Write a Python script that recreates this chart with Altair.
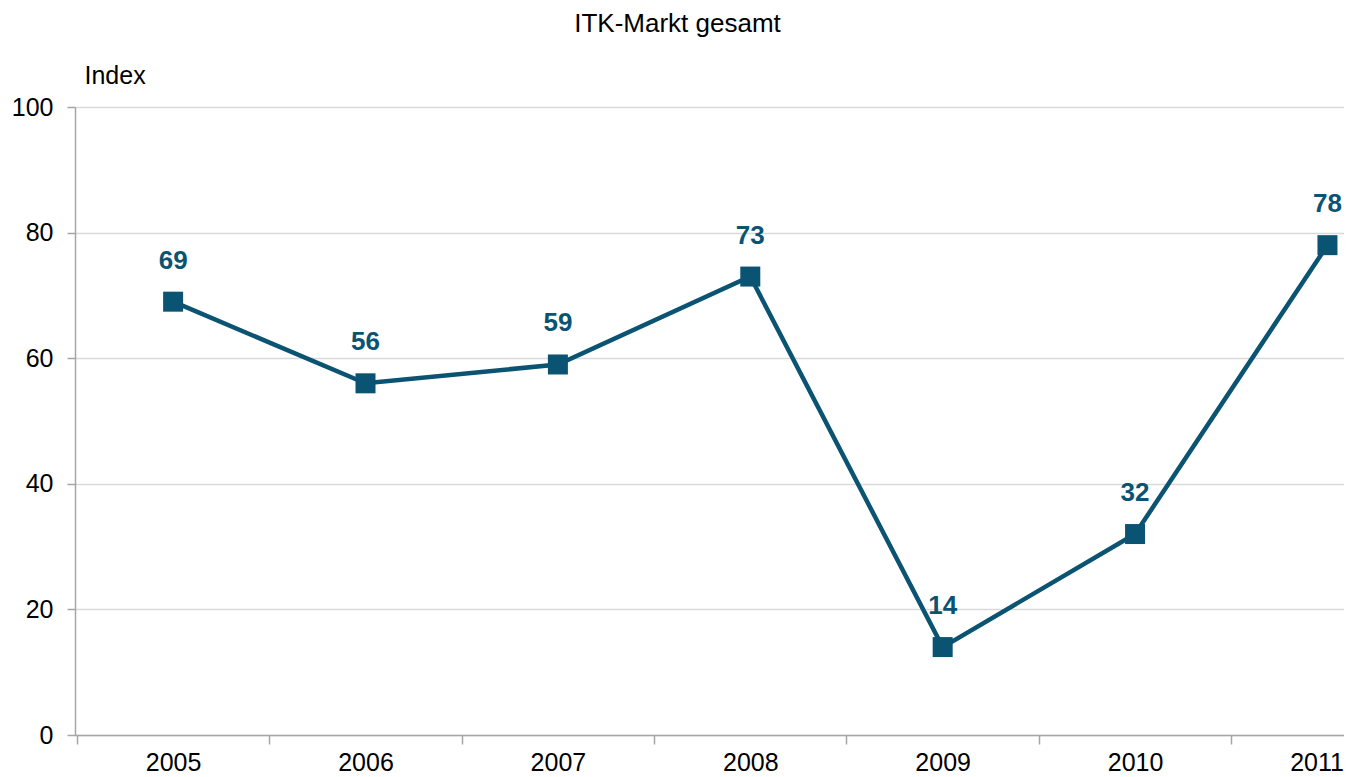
import altair as alt
import pandas as pd

# Data
years = [2005, 2006, 2007, 2008, 2009, 2010, 2011]
values = [69, 56, 59, 73, 14, 32, 78]
value_labels = ["69", "56", "59", "73", "14", "32", "78"]
y_tick_values = [0, 20, 40, 60, 80, 100]
x_tick_values = [2004.5, 2005, 2005.5, 2006, 2006.5, 2007, 2007.5, 2008,
                 2008.5, 2009, 2009.5, 2010, 2010.5, 2011]

df = pd.DataFrame({"year": years, "value": values, "label": value_labels})

COLOR = "#0a5372"
FONT = "Liberation Sans"
AXIS_GRAY = "#a6a6a6"

x_enc = alt.X(
    "year:Q",
    scale=alt.Scale(domain=[2004.49, 2011.086], nice=False, zero=False),
    axis=alt.Axis(
        values=x_tick_values,
        title=None,
        grid=False,
        labelExpr="datum.value % 1 == 0 ? format(datum.value, 'd') : ''",
        labelFlush=20,
        labelFlushOffset=16,
        labelOverlap=False,
        tickSize=9,
        tickColor=AXIS_GRAY,
        tickWidth=1.5,
        tickOpacity={"condition": {"test": "datum.value % 1 != 0", "value": 1}, "value": 0},
        domainColor=AXIS_GRAY,
        domainWidth=1.5,
        labelFont=FONT,
        labelFontSize=25,
        labelColor="black",
        labelPadding=6,
    ),
)

y_enc = alt.Y(
    "value:Q",
    scale=alt.Scale(domain=[0, 100], nice=False),
    axis=alt.Axis(
        values=y_tick_values,
        title="Index",
        titleAngle=0,
        titleAlign="left",
        titleBaseline="alphabetic",
        titleX=9,
        titleY=-24,
        titleFont=FONT,
        titleFontSize=25,
        titleFontWeight="normal",
        titleColor="black",
        grid=True,
        gridColor="#d9d9d9",
        gridWidth=1.5,
        tickSize=8,
        tickColor=AXIS_GRAY,
        tickWidth=1.5,
        domainColor=AXIS_GRAY,
        domainWidth=1.5,
        labelFont=FONT,
        labelFontSize=25,
        labelColor="black",
        labelPadding=14,
    ),
)

base = alt.Chart(df).encode(x=x_enc, y=y_enc)

line = base.mark_line(color=COLOR, strokeWidth=4.5)
points = base.mark_point(shape="square", filled=True, size=400, color=COLOR, opacity=1)
texts = base.mark_text(
    dy=-41, fontSize=26, fontWeight="bold", color=COLOR, font=FONT, baseline="middle"
).encode(text="label:N")

chart = (
    alt.layer(line, points, texts)
    .properties(
        width=1269,
        height=628,
        title=alt.TitleParams(
            "ITK-Markt gesamt",
            font=FONT,
            fontSize=26,
            fontWeight="normal",
            color="black",
            anchor="middle",
            frame="group",
            dx=-32,
            dy=-22,
        ),
        autosize=alt.AutoSizeParams(type="none"),
        padding={"left": 67, "top": 99, "right": 0, "bottom": 40},
    )
    .configure_view(stroke=None)
)

chart.save("out.html", embed_options={"renderer": "svg", "actions": False})
